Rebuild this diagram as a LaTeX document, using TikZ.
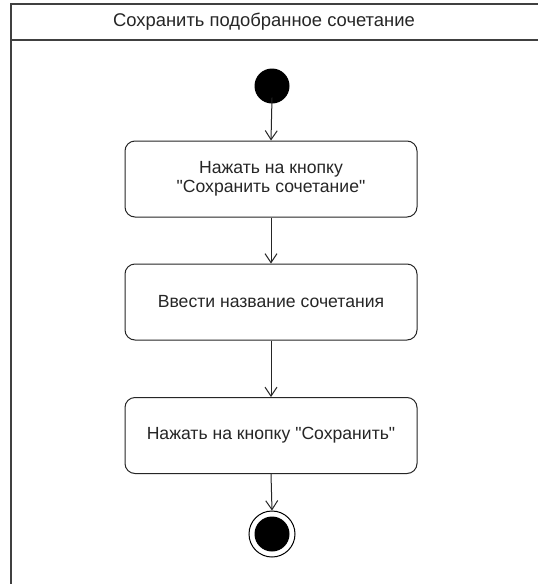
\documentclass[tikz,border=0pt]{standalone}
\usepackage{fontspec}
\newfontfamily\uifont{Liberation Sans}
\usetikzlibrary{arrows.meta}
\begin{document}
\begin{tikzpicture}[x=1pt,y=-1pt,
  action/.style={draw=black!85, line width=1pt, rounded corners=10pt, fill=white,
    minimum width=292pt, minimum height=76pt, align=center, inner sep=0pt,
    font=\uifont\fontsize{17.6}{19.5}\selectfont, text=black!85},
  flow/.style={draw=black!85, line width=1pt, -{Straight Barb[length=9pt,width=12pt,line width=1pt]}},
  frameline/.style={draw=black!75, line width=1.6pt}]
  \useasboundingbox (0,0) rectangle (538,584);
  \fill[white] (0,0) rectangle (538,584);
  % activity frame with its title bar, running past the page edges
  \begin{scope}
    \clip (0,0) rectangle (538,584);
    \draw[frameline] (560,4) -- (11,4) -- (11,600);
    \draw[frameline] (11,40) -- (560,40);
  \end{scope}
  \node[font=\uifont\fontsize{18.4}{21}\selectfont, text=black!85] (title) at (264,22) {Сохранить подобранное сочетание};
  % initial node
  \node[circle, fill=black, minimum size=35pt, inner sep=0pt] (start) at (272,86) {};
  % actions
  \node[action] (press) at (271,179) {Нажать на кнопку\\ "Сохранить сочетание"};
  \node[action] (name) at (271,302) {Ввести название сочетания};
  \node[action] (save) at (271,435.5) {Нажать на кнопку "Сохранить"};
  % final node
  \node[circle, draw=black, line width=1pt, fill=white, minimum size=46pt, inner sep=0pt] (stop) at (272,534) {};
  \node[circle, fill=black, minimum size=35pt, inner sep=0pt] (stopin) at (stop) {};
  % control flows
  \draw[flow] ([yshift=6pt]start.south) -- (press.north);
  \draw[flow] (press.south) -- (name.north);
  \draw[flow] (name.south) -- (save.north);
  \draw[flow] (save.south) -- (stop.north);
\end{tikzpicture}
\end{document}
